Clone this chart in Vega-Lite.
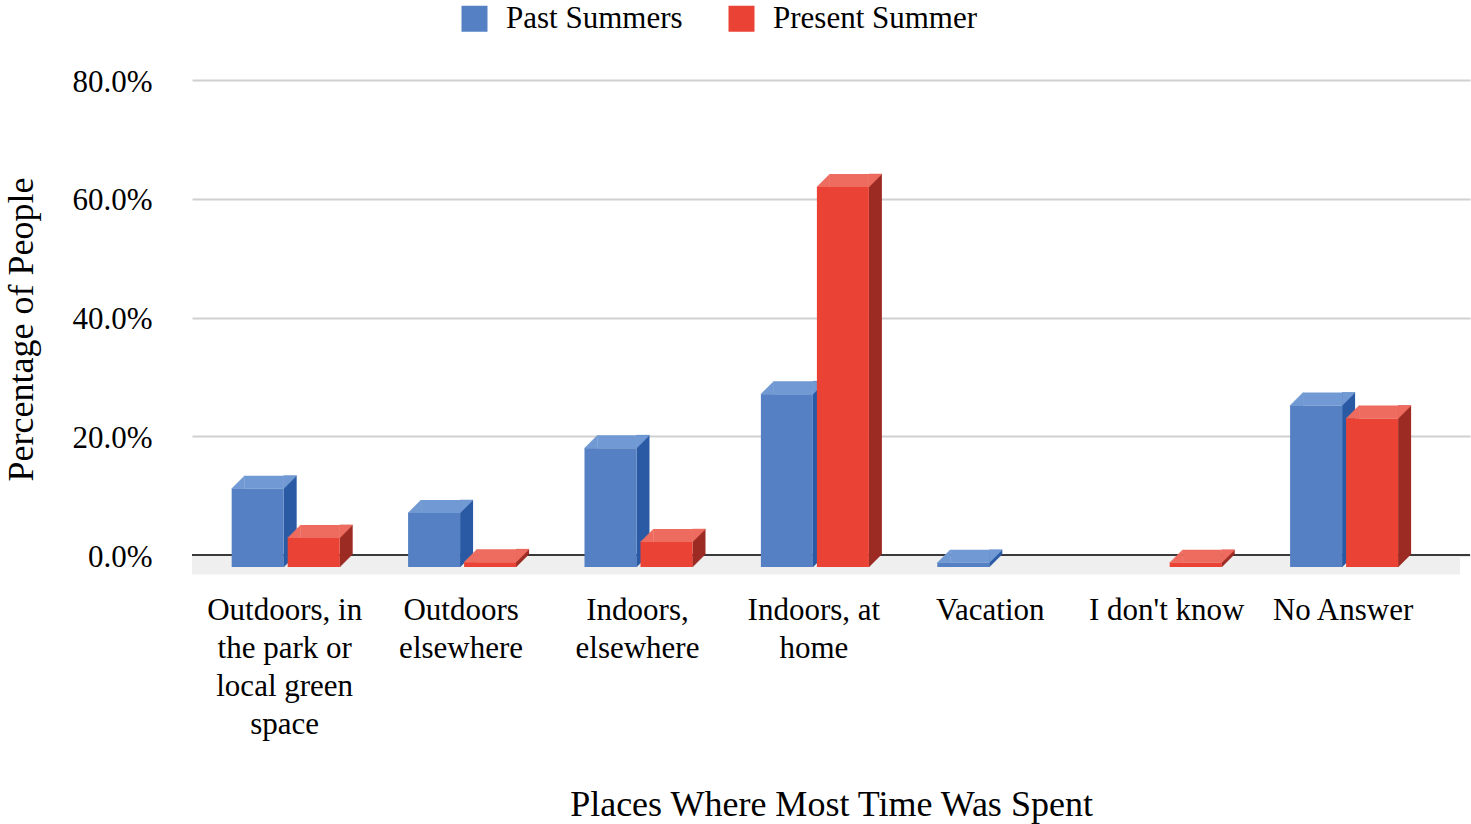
{
 "$schema": "https://vega.github.io/schema/vega-lite/v6.json",
 "width": 1278,
 "height": 475,
 "autosize": {"type": "none"},
 "padding": {"left": 192, "top": 80, "right": 1, "bottom": 269},
 "background": "white",
 "config": {"view": {"stroke": null}, "font": "Liberation Serif"},
 "data": {"values": [
  {"cat": "Outdoors, in the park or local green space", "series": "Past Summers", "v": 0.132},
  {"cat": "Outdoors, in the park or local green space", "series": "Present Summer", "v": 0.049},
  {"cat": "Outdoors elsewhere", "series": "Past Summers", "v": 0.091},
  {"cat": "Outdoors elsewhere", "series": "Present Summer", "v": 0.008},
  {"cat": "Indoors, elsewhere", "series": "Past Summers", "v": 0.200},
  {"cat": "Indoors, elsewhere", "series": "Present Summer", "v": 0.042},
  {"cat": "Indoors, at home", "series": "Past Summers", "v": 0.291},
  {"cat": "Indoors, at home", "series": "Present Summer", "v": 0.640},
  {"cat": "Vacation", "series": "Past Summers", "v": 0.007},
  {"cat": "Vacation", "series": "Present Summer", "v": 0},
  {"cat": "I don't know", "series": "Past Summers", "v": 0},
  {"cat": "I don't know", "series": "Present Summer", "v": 0.007},
  {"cat": "No Answer", "series": "Past Summers", "v": 0.272},
  {"cat": "No Answer", "series": "Present Summer", "v": 0.250}
 ]},
 "layer": [
  {
   "data": {"values": [{"base": 0}]},
   "mark": {"type": "rect", "color": "#efefef", "xOffset": -10, "x2Offset": -10, "y2Offset": 19.5},
   "encoding": {
    "y": {"field": "base", "type": "quantitative", "title": "Percentage of People",
     "scale": {"domain": [0, 0.8], "nice": false, "zero": true},
     "axis": {
      "title": "Percentage of People", "titleFont": "Liberation Serif", "titleFontSize": 36, "titleFontWeight": "normal", "titleColor": "#000",
      "titleAngle": 270, "titleX": -160, "titleY": 249, "titleAlign": "center", "titleBaseline": "alphabetic",
      "values": [0, 0.2, 0.4, 0.6, 0.8], "format": ".1%",
      "labelFont": "Liberation Serif", "labelFontSize": 31, "labelColor": "#000", "labelPadding": 40, "labelOffset": 2,
      "ticks": false, "tickSize": 0, "domain": false,
      "grid": true, "gridColor": "#d0d0d0", "gridWidth": 2
     }
    },
    "y2": {"field": "base"}
   }
  },
  {
   "data": {"values": [{"base": 0}]},
   "mark": {"type": "rule", "color": "#3a3a3a", "strokeWidth": 2},
   "encoding": {"y": {"field": "base", "type": "quantitative", "title": "Percentage of People"}}
  },
  {
   "encoding": {
    "x": {"field": "cat", "type": "nominal",
     "sort": ["Outdoors, in the park or local green space", "Outdoors elsewhere", "Indoors, elsewhere", "Indoors, at home", "Vacation", "I don't know", "No Answer"],
     "scale": {"type": "band", "paddingInner": 0, "paddingOuter": 0.1224, "align": 0.428},
     "axis": {
      "title": "Places Where Most Time Was Spent", "titleFont": "Liberation Serif", "titleFontSize": 36, "titleFontWeight": "normal", "titleColor": "#000",
      "titleBaseline": "alphabetic", "titleY": 260,
      "labelFont": "Liberation Serif", "labelFontSize": 31, "labelColor": "#000", "labelAngle": 0, "labelPadding": 40,
      "labelBaseline": "top", "labelLineHeight": 38.3, "labelOffset": -14, "labelOverlap": false, "labelLimit": 0,
      "labelExpr": "datum.value == 'Outdoors, in the park or local green space' ? ['Outdoors, in', 'the park or', 'local green', 'space'] : datum.value == 'Outdoors elsewhere' ? ['Outdoors', 'elsewhere'] : datum.value == 'Indoors, elsewhere' ? ['Indoors,', 'elsewhere'] : datum.value == 'Indoors, at home' ? ['Indoors, at', 'home'] : datum.value",
      "domain": false, "ticks": false, "tickSize": 0, "grid": false
     }
    }
   },
   "layer": [
    {
     "transform": [{"filter": "datum.series == 'Past Summers' && datum.v > 0"}],
     "mark": {"type": "bar", "color": "#2a5aa4", "width": 13, "xOffset": -8.5, "yOffset": -1, "y2Offset": -1},
     "encoding": {"y": {"field": "v", "type": "quantitative", "title": "Percentage of People"}, "y2": {"datum": 0}}
    },
    {
     "transform": [{"filter": "datum.series == 'Past Summers' && datum.v > 0"}],
     "mark": {"type": "point", "shape": "M -1 -1 L 1 -1 L -1 1 Z", "size": 169, "filled": true, "opacity": 1, "fill": "#2a5aa4", "stroke": "#2a5aa4", "strokeWidth": 0.5, "xOffset": -8.5, "yOffset": 5.5},
     "encoding": {"y": {"datum": 0, "type": "quantitative", "title": "Percentage of People"}}
    },
    {
     "transform": [{"filter": "datum.series == 'Past Summers' && datum.v > 0"}],
     "mark": {"type": "point", "shape": "M -1 -1 L 1 -1 L -1 1 Z", "size": 169, "filled": true, "opacity": 1, "fill": "#7199d3", "stroke": "#7199d3", "strokeWidth": 0.5, "xOffset": -8.5, "yOffset": 5.5},
     "encoding": {"y": {"field": "v", "type": "quantitative", "title": "Percentage of People"}}
    },
    {
     "transform": [{"filter": "datum.series == 'Past Summers' && datum.v > 0"}],
     "mark": {"type": "bar", "color": "#7199d3", "width": 39, "xOffset": -34.5, "yOffset": -1, "y2Offset": 12},
     "encoding": {"y": {"field": "v", "type": "quantitative", "title": "Percentage of People"}, "y2": {"field": "v"}}
    },
    {
     "transform": [{"filter": "datum.series == 'Past Summers' && datum.v > 0"}],
     "mark": {"type": "point", "shape": "M -1 1 L 1 1 L 1 -1 Z", "size": 169, "filled": true, "opacity": 1, "fill": "#7199d3", "stroke": "#7199d3", "strokeWidth": 0.5, "xOffset": -60.5, "yOffset": 5.5},
     "encoding": {"y": {"field": "v", "type": "quantitative", "title": "Percentage of People"}}
    },
    {
     "transform": [{"filter": "datum.series == 'Past Summers' && datum.v > 0"}],
     "mark": {"type": "bar", "width": 52, "xOffset": -41, "yOffset": 12, "y2Offset": 12},
     "encoding": {
      "y": {"field": "v", "type": "quantitative", "title": "Percentage of People"},
      "y2": {"datum": 0},
      "color": {"field": "series", "type": "nominal",
       "scale": {"domain": ["Past Summers", "Present Summer"], "range": ["#5580c3", "#ea4335"]},
       "legend": {"title": null, "orient": "none", "legendX": 267, "legendY": -77, "direction": "horizontal",
        "symbolType": "square", "symbolSize": 676, "symbolStrokeWidth": 0, "symbolOpacity": 1,
        "labelFont": "Liberation Serif", "labelFontSize": 31, "labelColor": "#000", "labelOffset": 16, "labelLimit": 0,
        "columnPadding": 43, "padding": 0}
      }
     }
    },
    {
     "transform": [{"filter": "datum.series == 'Present Summer' && datum.v > 0"}],
     "mark": {"type": "bar", "color": "#9c2b23", "width": 13, "xOffset": 47.5, "yOffset": -1, "y2Offset": -1},
     "encoding": {"y": {"field": "v", "type": "quantitative", "title": "Percentage of People"}, "y2": {"datum": 0}}
    },
    {
     "transform": [{"filter": "datum.series == 'Present Summer' && datum.v > 0"}],
     "mark": {"type": "point", "shape": "M -1 -1 L 1 -1 L -1 1 Z", "size": 169, "filled": true, "opacity": 1, "fill": "#9c2b23", "stroke": "#9c2b23", "strokeWidth": 0.5, "xOffset": 47.5, "yOffset": 5.5},
     "encoding": {"y": {"datum": 0, "type": "quantitative", "title": "Percentage of People"}}
    },
    {
     "transform": [{"filter": "datum.series == 'Present Summer' && datum.v > 0"}],
     "mark": {"type": "point", "shape": "M -1 -1 L 1 -1 L -1 1 Z", "size": 169, "filled": true, "opacity": 1, "fill": "#ee6b5f", "stroke": "#ee6b5f", "strokeWidth": 0.5, "xOffset": 47.5, "yOffset": 5.5},
     "encoding": {"y": {"field": "v", "type": "quantitative", "title": "Percentage of People"}}
    },
    {
     "transform": [{"filter": "datum.series == 'Present Summer' && datum.v > 0"}],
     "mark": {"type": "bar", "color": "#ee6b5f", "width": 39, "xOffset": 21.5, "yOffset": -1, "y2Offset": 12},
     "encoding": {"y": {"field": "v", "type": "quantitative", "title": "Percentage of People"}, "y2": {"field": "v"}}
    },
    {
     "transform": [{"filter": "datum.series == 'Present Summer' && datum.v > 0"}],
     "mark": {"type": "point", "shape": "M -1 1 L 1 1 L 1 -1 Z", "size": 169, "filled": true, "opacity": 1, "fill": "#ee6b5f", "stroke": "#ee6b5f", "strokeWidth": 0.5, "xOffset": -4.5, "yOffset": 5.5},
     "encoding": {"y": {"field": "v", "type": "quantitative", "title": "Percentage of People"}}
    },
    {
     "transform": [{"filter": "datum.series == 'Present Summer' && datum.v > 0"}],
     "mark": {"type": "bar", "width": 52, "xOffset": 15, "yOffset": 12, "y2Offset": 12},
     "encoding": {
      "y": {"field": "v", "type": "quantitative", "title": "Percentage of People"},
      "y2": {"datum": 0},
      "color": {"field": "series", "type": "nominal",
       "scale": {"domain": ["Past Summers", "Present Summer"], "range": ["#5580c3", "#ea4335"]}}
     }
    }
   ]
  }
 ]
}
